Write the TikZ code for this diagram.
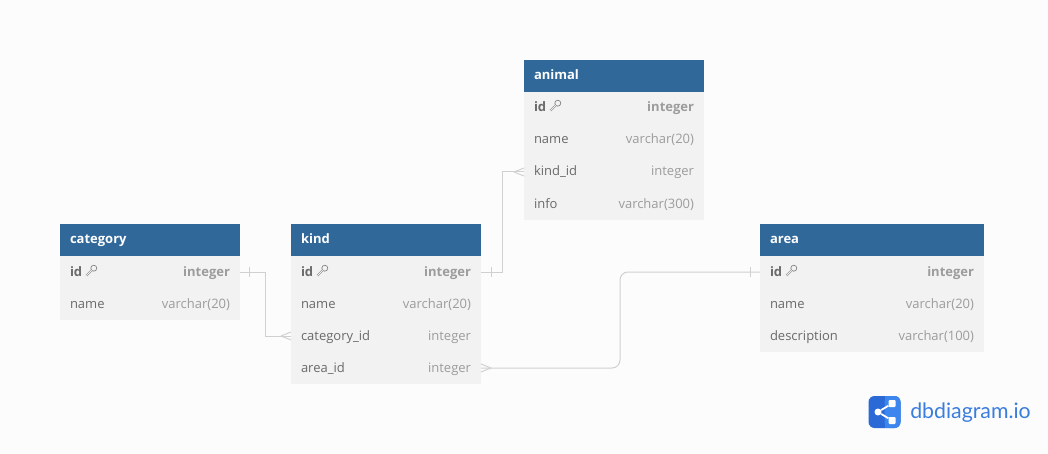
\documentclass[tikz,border=0pt]{standalone}
\usepackage{fontspec}
\setmainfont{Open Sans}
\newfontfamily\logofont{Lato}

\definecolor{pagebg}{HTML}{FCFCFC}
\definecolor{headblue}{HTML}{30689A}
\definecolor{rowgray}{HTML}{F2F2F2}
\definecolor{namegray}{HTML}{6A6A6A}
\definecolor{typegray}{HTML}{9C9C9C}
\definecolor{linkgray}{HTML}{D0D0D0}
\definecolor{logoblue}{HTML}{3B7DDD}
\definecolor{logodark}{HTML}{2A69D6}
\definecolor{logolight}{HTML}{3C86EE}

\newcommand{\colrow}[2]{{\color{namegray}#1}\hfill{\color{typegray}#2}}
\newcommand{\keyrow}[1]{{\color{namegray}\bfseries id}\hfill{\color{typegray}\bfseries #1}}

\tikzset{
  headbox/.style={rectangle,fill=headblue,text=white,inner sep=0pt,minimum height=32pt,
    text height=10pt,text depth=3pt,align=left,font=\fontsize{13}{16}\selectfont\bfseries},
  rowbox/.style={rectangle,fill=rowgray,inner sep=0pt,minimum height=32pt,
    text height=10.5pt,text depth=2.5pt,align=left,font=\fontsize{13}{16}\selectfont},
  link/.style={draw=linkgray,line width=1pt},
  keyicon/.pic={
    \draw[typegray!85!black,line width=.7pt] (2.8,-2.8) circle (3pt);
    \draw[typegray!85!black,line width=.55pt,double=rowgray,double distance=.9pt]
      (.7,-.7) -- (-4.6,4.6);
  }
}

\begin{document}
\begin{tikzpicture}[x=1pt,y=-1pt]
\fill[pagebg] (0,0) rectangle (1048,454);
\useasboundingbox (0,0) rectangle (1048,454);

% category
\node at (150,240) [headbox,minimum width=180pt,text width=160pt] (cathead) {category};
\node at (150,272) [rowbox,minimum width=180pt,text width=160pt] (catid) {\keyrow{integer}};
\node at (150,304) [rowbox,minimum width=180pt,text width=160pt] (catname) {\colrow{name}{varchar(20)}};

% kind
\node at (386,240) [headbox,minimum width=190pt,text width=170pt] (kindhead) {kind};
\node at (386,272) [rowbox,minimum width=190pt,text width=170pt] (kindid) {\keyrow{integer}};
\node at (386,304) [rowbox,minimum width=190pt,text width=170pt] (kindname) {\colrow{name}{varchar(20)}};
\node at (386,336) [rowbox,minimum width=190pt,text width=170pt] (kindcat) {\colrow{category\_id}{integer}};
\node at (386,368) [rowbox,minimum width=190pt,text width=170pt] (kindarea) {\colrow{area\_id}{integer}};

% animal
\node at (614,76) [headbox,minimum width=180pt,text width=160pt] (animalhead) {animal};
\node at (614,108) [rowbox,minimum width=180pt,text width=160pt] (animalid) {\keyrow{integer}};
\node at (614,140) [rowbox,minimum width=180pt,text width=160pt] (animalname) {\colrow{name}{varchar(20)}};
\node at (614,172) [rowbox,minimum width=180pt,text width=160pt] (animalkind) {\colrow{kind\_id}{integer}};
\node at (614,204) [rowbox,minimum width=180pt,text width=160pt] (animalinfo) {\colrow{info}{varchar(300)}};

% area
\node at (872,240) [headbox,minimum width=224pt,text width=204pt] (areahead) {area};
\node at (872,272) [rowbox,minimum width=224pt,text width=204pt] (areaid) {\keyrow{integer}};
\node at (872,304) [rowbox,minimum width=224pt,text width=204pt] (areaname) {\colrow{name}{varchar(20)}};
\node at (872,336) [rowbox,minimum width=224pt,text width=204pt] (areadesc) {\colrow{description}{varchar(100)}};

% key marks
\pic at (91,271) {keyicon};
\pic at (322,271) {keyicon};
\pic at (555,106) {keyicon};
\pic at (791,271) {keyicon};

% links
\draw[link] (catid.east) -- (265,272) -- (265,336) -- (kindcat.west);
\draw[link] (kindid.east) -- (502,272) -- (502,172) -- (animalkind.west);
\draw[link,rounded corners=8pt] (kindarea.east) -- (620,368) -- (620,272) -- (areaid.west);

% link ends
\draw[link] (249,267) -- (249,277);
\draw[link] (491,267) -- (491,277);
\draw[link] (750,267) -- (750,277);
\draw[link] (281,336) -- (291,332) (281,336) -- (291,340);
\draw[link] (514,172) -- (524,168) (514,172) -- (524,176);
\draw[link] (491,368) -- (481,364) (491,368) -- (481,372);

% logo
\node at (884.5,412) [rectangle,rounded corners=6pt,minimum size=32pt,inner sep=0pt,fill=logodark] (logobox) {};
\fill[logolight,rounded corners=6pt] (884.5,396) rectangle (900.5,428);
\fill[logolight] (884.5,396) rectangle (889,428);
\node at (878,412) [circle,fill=white,inner sep=0pt,minimum size=7pt] (logoa) {};
\node at (892,403.5) [rectangle,rounded corners=1pt,fill=white,inner sep=0pt,minimum size=7pt] (logob) {};
\node at (892,420.5) [rectangle,rounded corners=1pt,fill=white,inner sep=0pt,minimum size=7pt] (logoc) {};
\draw[white,line width=1.8pt] (logob) -- (logoa) -- (logoc);
\node at (970.5,413) [inner sep=0pt,text=logoblue,font=\logofont\fontsize{21.3}{24}\selectfont] (logotext) {dbdiagram.io};
\end{tikzpicture}
\end{document}
